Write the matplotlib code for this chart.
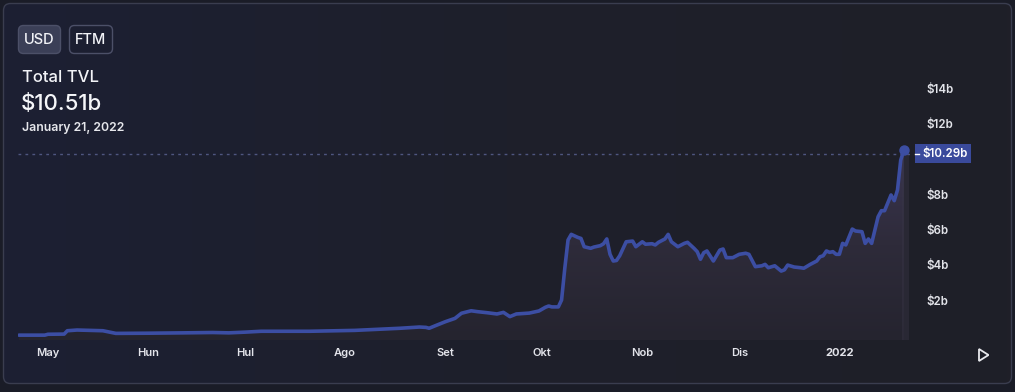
import numpy as np
import matplotlib
matplotlib.use("Agg")
import matplotlib.pyplot as plt
import matplotlib.dates as mdates
from matplotlib.patches import FancyBboxPatch, Polygon, Rectangle
from matplotlib.colors import LinearSegmentedColormap

plt.rcParams['font.family'] = ['Inter', 'DejaVu Sans']

# ---------------- data ----------------
dates = [
    "2021-04-22", "2021-04-30", "2021-05-01", "2021-05-06", "2021-05-07", "2021-05-10",
    "2021-05-14", "2021-05-18", "2021-05-22", "2021-06-01", "2021-06-12", "2021-06-21",
    "2021-06-26", "2021-07-01", "2021-07-06", "2021-07-21", "2021-08-04", "2021-08-18",
    "2021-08-24", "2021-08-26", "2021-08-27", "2021-08-29", "2021-09-01", "2021-09-04",
    "2021-09-06", "2021-09-09", "2021-09-11", "2021-09-14", "2021-09-17", "2021-09-19",
    "2021-09-21", "2021-09-23", "2021-09-27", "2021-09-30", "2021-10-02", "2021-10-03",
    "2021-10-04", "2021-10-06", "2021-10-07", "2021-10-08", "2021-10-09", "2021-10-10",
    "2021-10-12", "2021-10-13", "2021-10-14", "2021-10-16", "2021-10-17", "2021-10-19",
    "2021-10-20", "2021-10-21", "2021-10-22", "2021-10-23", "2021-10-24", "2021-10-25",
    "2021-10-27", "2021-10-29", "2021-10-30", "2021-11-01", "2021-11-02", "2021-11-04",
    "2021-11-05", "2021-11-06", "2021-11-08", "2021-11-09", "2021-11-10", "2021-11-12",
    "2021-11-14", "2021-11-15", "2021-11-17", "2021-11-18", "2021-11-19", "2021-11-20",
    "2021-11-21", "2021-11-23", "2021-11-25", "2021-11-26", "2021-11-27", "2021-11-29",
    "2021-12-01", "2021-12-03", "2021-12-04", "2021-12-06", "2021-12-08", "2021-12-09",
    "2021-12-10", "2021-12-12", "2021-12-14", "2021-12-15", "2021-12-16", "2021-12-18",
    "2021-12-20", "2021-12-21", "2021-12-23", "2021-12-25", "2021-12-26", "2021-12-27",
    "2021-12-28", "2021-12-29", "2021-12-30", "2021-12-31", "2022-01-01", "2022-01-02",
    "2022-01-03", "2022-01-05", "2022-01-06", "2022-01-08", "2022-01-09", "2022-01-10",
    "2022-01-11", "2022-01-13", "2022-01-14", "2022-01-15", "2022-01-17", "2022-01-18",
    "2022-01-19", "2022-01-20", "2022-01-21",
]
tvl_b = [
    0.02, 0.02, 0.07, 0.08, 0.27, 0.31,
    0.29, 0.27, 0.12, 0.13, 0.15, 0.17,
    0.15, 0.19, 0.24, 0.24, 0.29, 0.41,
    0.48, 0.46, 0.41, 0.56, 0.78, 0.97,
    1.26, 1.40, 1.35, 1.29, 1.22, 1.31,
    1.07, 1.22, 1.27, 1.39, 1.60, 1.67,
    1.62, 1.62, 2.01, 3.81, 5.41, 5.73,
    5.56, 5.50, 5.03, 4.94, 5.01, 5.09,
    5.20, 5.47, 4.60, 4.22, 4.25, 4.52,
    5.31, 5.35, 5.03, 5.31, 5.17, 5.20,
    5.13, 5.28, 5.47, 5.73, 5.31, 5.03,
    5.22, 5.28, 4.94, 4.75, 4.32, 4.69,
    4.79, 4.22, 4.84, 4.90, 4.41, 4.41,
    4.60, 4.66, 4.60, 3.90, 3.95, 4.03,
    3.84, 3.95, 3.65, 3.72, 3.99, 3.88,
    3.84, 3.81, 4.03, 4.22, 4.46, 4.52,
    4.79, 4.71, 4.75, 4.60, 4.60, 5.22,
    5.13, 6.03, 5.92, 5.88, 5.22, 5.47,
    5.22, 6.73, 7.07, 7.07, 7.96, 7.64,
    8.24, 9.94, 10.51,
]
crosshair_value = 10.29
y_ticks = [2, 4, 6, 8, 10, 12, 14]
y_tick_labels = ["$2b", "$4b", "$6b", "$8b", "", "$12b", "$14b"]
month_ticks = ["2021-05-01", "2021-06-01", "2021-07-01", "2021-08-01", "2021-09-01",
               "2021-10-01", "2021-11-01", "2021-12-01", "2022-01-01"]
month_labels = ["May", "Hun", "Hul", "Ago", "Set", "Okt", "Nob", "Dis", "2022"]
title_text = "Total TVL"
value_text = "$10.51b"
date_text = "January 21, 2022"
crosshair_label = "$10.29b"

# ---------------- figure ----------------
W, H = 1015, 392
fig = plt.figure(figsize=(W / 100, H / 100), dpi=100)
fig.patch.set_facecolor("#1a1c27")

def fx(px):
    return px / W

def fy(py):
    return 1 - py / H

# background card with horizontal gradient
bg = fig.add_axes([0, 0, 1, 1])
bg.set_xlim(0, W)
bg.set_ylim(H, 0)
bg.axis("off")
grad = np.linspace(0, 1, 256).reshape(1, -1)
bg_cmap = LinearSegmentedColormap.from_list("bg", ["#1c1f33", "#1e1f2b", "#1f1f28"])
card = FancyBboxPatch((3.5, 3.5), W - 7, H - 12, boxstyle="round,pad=0,rounding_size=7",
                      facecolor="none", edgecolor="#3a3d4f", linewidth=1.0, zorder=3)
bg.add_patch(card)
im = bg.imshow(grad, cmap=bg_cmap, extent=[3.5, W - 3.5, H - 8.5, 3.5], aspect="auto", zorder=1)
im.set_clip_path(card)

# buttons
usd = FancyBboxPatch((18.5, 25.5), 42, 28, boxstyle="round,pad=0,rounding_size=5",
                     facecolor="#3b3f57", edgecolor="#4c5068", linewidth=1.0, zorder=4)
ftm = FancyBboxPatch((69.5, 25.5), 43, 28, boxstyle="round,pad=0,rounding_size=5",
                     facecolor="none", edgecolor="#4c5068", linewidth=1.0, zorder=4)
bg.add_patch(usd)
bg.add_patch(ftm)
bg.text(39.5, 40, "USD", color="#f2f3f7", fontsize=10.5, fontweight="medium",
        ha="center", va="center", zorder=5)
bg.text(91, 40, "FTM", color="#f2f3f7", fontsize=10.5, fontweight="medium",
        ha="center", va="center", zorder=5)

bg.text(22, 77.5, title_text, color="#f2f3f7", fontsize=12, fontweight="medium",
        ha="left", va="center", zorder=5)
bg.text(21, 104, value_text, color="#f5f6f9", fontsize=16, fontweight="medium",
        ha="left", va="center", zorder=5)
bg.text(22, 128.5, date_text, color="#e6e7ec", fontsize=8.8, fontweight="semibold",
        ha="left", va="center", zorder=5)

# play triangle
tri = Polygon([[979, 349], [979, 361], [988.5, 355]], closed=True, facecolor="none",
              edgecolor="#e8e9ee", linewidth=1.3, zorder=5)
bg.add_patch(tri)

# ---------------- chart ----------------
left_px, right_px, top_px, bot_px = 18, 910, 20, 340
ax = fig.add_axes([fx(left_px), fy(bot_px), fx(right_px - left_px), (bot_px - top_px) / H])
ax.patch.set_alpha(0)
for s in ax.spines.values():
    s.set_visible(False)

x = np.array(dates, dtype="datetime64[D]").astype("datetime64[ns]")
xd = mdates.date2num(x)
y = np.array(tvl_b)

may1 = mdates.date2num(np.datetime64("2021-05-01"))
px_per_day = 3.23
ax.set_xlim(may1 + (left_px - 48) / px_per_day, may1 + (right_px - 48) / px_per_day)
zero_px, px_per_b = 335.5, 17.65
ax.set_ylim((zero_px - bot_px) / px_per_b, (zero_px - top_px) / px_per_b)
ymin, ymax = ax.get_ylim()

# gradient fill under the line
poly_x = np.concatenate([xd, [xd[-1], xd[0]]])
poly_y = np.concatenate([y, [ymin, ymin]])
clip = Polygon(np.column_stack([poly_x, poly_y]), closed=True, facecolor="none",
               edgecolor="none", transform=ax.transData)
ax.add_patch(clip)
fill_cmap = LinearSegmentedColormap.from_list("fill", ["#25242f", "#2e2b3a", "#3a3550"])
gv = np.linspace(0, 1, 256).reshape(-1, 1)
fim = ax.imshow(gv, cmap=fill_cmap, origin="lower", aspect="auto",
                extent=[xd[0], xd[-1], ymin, y.max()], zorder=1, interpolation="bilinear")
fim.set_clip_path(clip)

# vertical crosshair band
ax.axvspan(xd[-1] - 0.6, xd[-1] + 1.6, ymin=0, ymax=(y[-1] - ymin) / (ymax - ymin),
           color="#3a3748", alpha=0.4, lw=0, zorder=1.5)

ax.plot(xd, y, color="#3c4ea3", linewidth=2.6, solid_joinstyle="round",
        solid_capstyle="round", zorder=3)
ax.plot([xd[-1]], [y[-1]], "o", color="#3c4ea3", markersize=6.5, zorder=4)

# dotted crosshair line
ax.axhline(crosshair_value, color="#4f5680", linewidth=1.0, linestyle=(0, (2, 3)), zorder=2)

# axes ticks
ax.yaxis.tick_right()
ax.set_yticks(y_ticks)
ax.set_yticklabels(y_tick_labels)
ax.tick_params(axis="y", length=0, pad=12, labelsize=8.3, labelcolor="#e3e4ea")
for lab in ax.get_yticklabels():
    lab.set_fontweight("semibold")
ax.set_xticks(mdates.date2num(np.array(month_ticks, dtype="datetime64[D]").astype("datetime64[ns]")))
ax.set_xticklabels(month_labels)
ax.tick_params(axis="x", length=0, pad=6, labelsize=8, labelcolor="#e3e4ea")
for lab in ax.get_xticklabels():
    lab.set_fontweight("semibold")
ax.get_xticklabels()[-1].set_fontweight("bold")

# crosshair price label
yc = zero_px - crosshair_value * px_per_b
bg.add_patch(Rectangle((915, yc - 9.5), 56, 19, facecolor="#3a4a9c", edgecolor="none", zorder=5))
bg.plot([915, 919], [yc, yc], color="white", lw=1.0, zorder=6)
bg.text(922, yc, crosshair_label, color="#ffffff", fontsize=8.3, fontweight="semibold",
        ha="left", va="center", zorder=6)

fig.savefig("out.png", dpi=100, facecolor=fig.get_facecolor())
